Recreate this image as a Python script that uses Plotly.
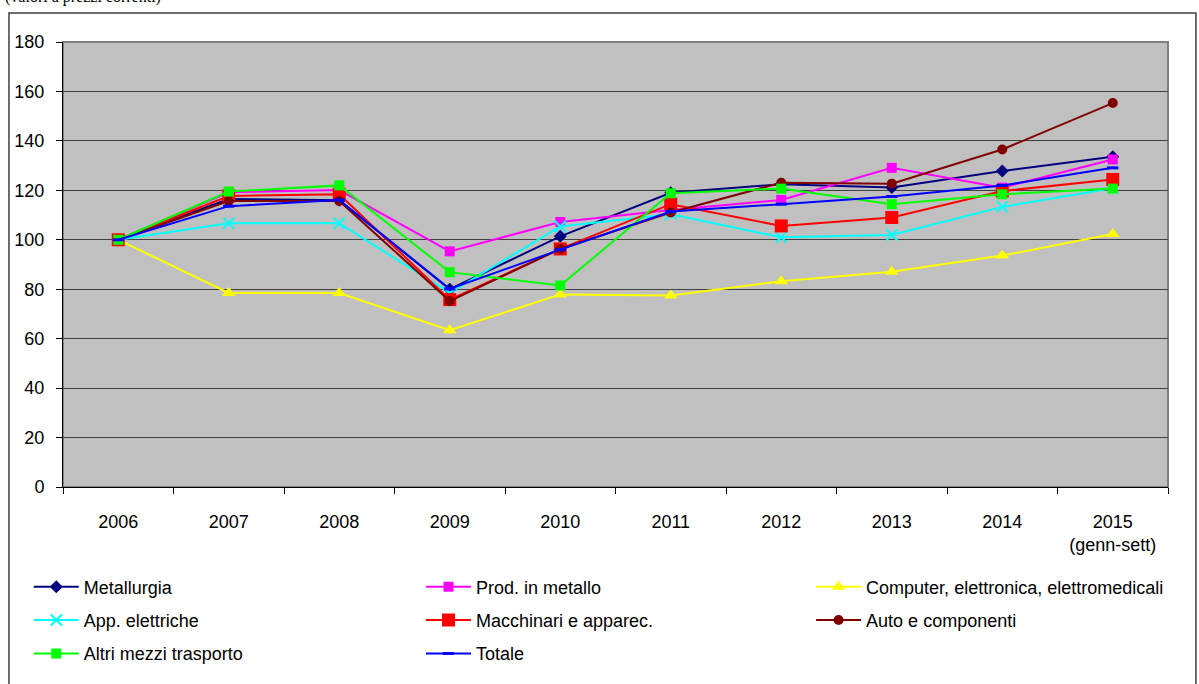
import plotly.graph_objects as go

years = ["2006", "2007", "2008", "2009", "2010", "2011", "2012", "2013", "2014", "2015"]
year_labels = ["2006", "2007", "2008", "2009", "2010", "2011", "2012", "2013", "2014", "2015<br>(genn-sett)"]

metallurgia = [100, 116.5, 116, 80, 101.4, 119, 122.5, 121.1, 127.8, 133.6]
prod_metallo = [100, 119.2, 120.1, 95.3, 107.2, 112, 116.1, 129.1, 121.1, 132.5]
computer = [100, 78.5, 78.5, 63.4, 77.9, 77.5, 83.2, 87.1, 93.6, 102.3]
app_elettriche = [100, 106.7, 106.7, 78.5, 105.4, 110.3, 101, 101.9, 113.3, 120.8]
macchinari = [100, 117.7, 118.4, 75.8, 96.3, 114.4, 105.6, 109, 119.7, 124.4]
auto = [100, 115.7, 115.7, 75.2, 96.3, 111, 123.1, 122.7, 136.5, 155.3]
altri_trasporti = [100, 119.5, 122, 86.9, 81.5, 118.8, 120.7, 114.4, 118.4, 120.7]
totale = [100, 113.6, 116.1, 80.1, 96, 111.4, 114.4, 117.5, 122, 129.1]

series = [
    ("Metallurgia", metallurgia, "#000080", "diamond", 10, "legend"),
    ("Prod. in metallo", prod_metallo, "#FF00FF", "square", 10, "legend2"),
    ("Computer, elettronica, elettromedicali", computer, "#FFFF00", "triangle-up", 12, "legend3"),
    ("App. elettriche", app_elettriche, "#00FFFF", "x-thin-open", 11, "legend"),
    ("Macchinari e apparec.", macchinari, "#FF0000", "square", 13, "legend2"),
    ("Auto e componenti", auto, "#800000", "circle", 10, "legend3"),
    ("Altri mezzi trasporto", altri_trasporti, "#00FF00", "square", 10, "legend"),
    ("Totale", totale, "#0000FF", "line-ew", 8, "legend2"),
]

fig = go.Figure()
for i, (name, vals, color, sym, size, leg) in enumerate(series):
    marker = dict(symbol=sym, size=size, color=color)
    if sym in ("x-thin-open", "line-ew"):
        marker["line"] = dict(color=color, width=2 if sym == "x-thin-open" else 3)
    fig.add_trace(go.Scatter(
        x=years, y=vals, name=name, mode="lines+markers",
        line=dict(color=color, width=2), marker=marker,
        legend=leg, legendgroup=name,
    ))

font = dict(family="Arial, Liberation Sans, sans-serif", size=18, color="black")

legend_common = dict(
    orientation="v", xanchor="left", yanchor="top", y=-0.183,
    font=font, bgcolor="rgba(0,0,0,0)", tracegroupgap=7,
    traceorder="grouped", itemwidth=45,
)

fig.update_layout(
    width=1199, height=684,
    margin=dict(l=63, r=31, t=42, b=195),
    paper_bgcolor="white", plot_bgcolor="#C0C0C0",
    font=font,
    showlegend=True,
    legend=dict(x=-0.031, **legend_common),
    legend2=dict(x=0.324, **legend_common),
    legend3=dict(x=0.677, **legend_common),
    xaxis=dict(
        type="category", tickmode="array", tickvals=years, ticktext=year_labels,
        tickson="boundaries", ticks="outside", ticklen=6, tickcolor="black",
        showline=True, linecolor="black", linewidth=1, showgrid=False,
        ticklabelstandoff=18, tickfont=font, range=[-0.5, 9.5],
    ),
    yaxis=dict(
        range=[0, 180], tickmode="linear", tick0=0, dtick=20,
        ticks="outside", ticklen=6, tickcolor="black",
        showline=True, linecolor="black", linewidth=1,
        showgrid=True, gridcolor="#404040", gridwidth=1,
        zeroline=False, ticklabelstandoff=8, tickfont=font,
    ),
    shapes=[
        dict(type="rect", xref="paper", yref="paper", x0=0, x1=1, y0=0, y1=1,
             line=dict(color="#808080", width=2), layer="below"),
        dict(type="rect", xref="paper", yref="paper", x0=-0.0489, x1=1.0253, y0=-0.5, y1=1.0649,
             line=dict(color="#404040", width=1.5), layer="below"),
    ],
    annotations=[
        dict(text="(valori a prezzi correnti)", xref="paper", yref="paper",
             x=-0.0543, y=1.076, xanchor="left", yanchor="bottom", showarrow=False,
             font=dict(family="Liberation Serif, Times New Roman, serif", size=16, color="black")),
    ],
)

fig.write_html("out.html", config={"displayModeBar": False},
               post_script="document.body.style.margin='0';")
